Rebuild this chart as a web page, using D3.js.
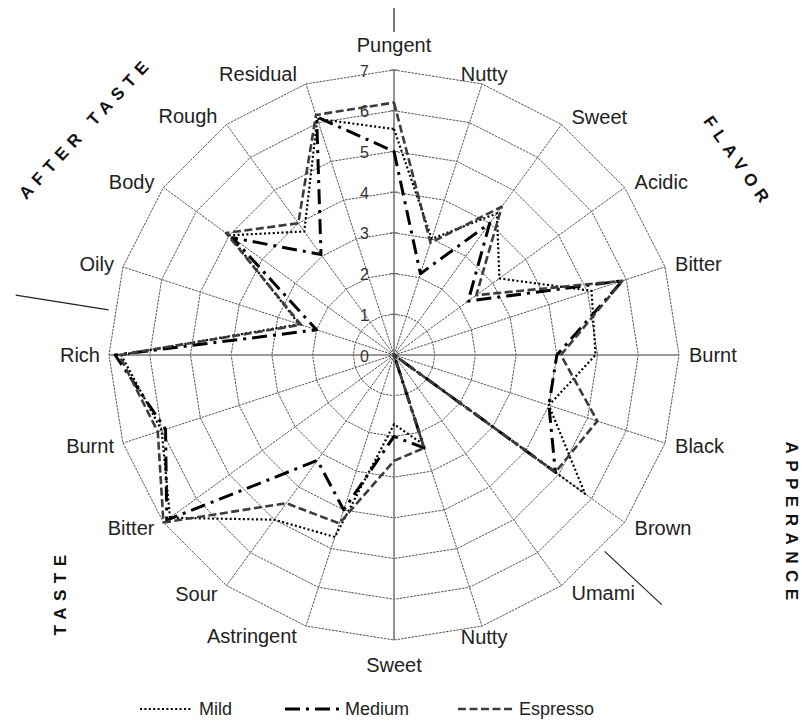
<!DOCTYPE html>
<html><head><meta charset="utf-8">
<script src="https://cdn.jsdelivr.net/npm/d3@7"></script>
<style>body{margin:0;background:#fff;} svg{display:block;font-family:Arial,"Liberation Sans",sans-serif;}</style>
</head><body><svg id="c" width="809" height="723"></svg>
<script>
const axisLabels = ["Pungent","Nutty","Sweet","Acidic","Bitter","Burnt","Black","Brown","Umami","Nutty","Sweet","Astringent","Sour","Bitter","Burnt","Rich","Oily","Body","Rough","Residual"];
const tickValues = [0,1,2,3,4,5,6,7];
const mild     = [5.55, 3.0, 4.3, 3.2, 5.1, 4.95, 4.0, 5.8, 0, 2.3, 1.7, 4.7, 5.0, 6.8, 6.0, 6.7, 2.45, 5.0, 3.75, 6.1];
const medium   = [5.0, 2.1, 4.0, 2.25, 5.9, 4.0, 4.0, 4.9, 0, 2.4, 2.0, 4.0, 3.2, 6.9, 5.9, 6.85, 2.0, 4.9, 3.05, 6.15];
const espresso = [6.2, 2.9, 4.5, 2.5, 5.9, 4.1, 5.25, 4.9, 0, 2.4, 2.6, 4.35, 4.5, 7.0, 6.1, 6.75, 2.4, 5.1, 4.0, 6.2];
const seriesNames = ["Mild","Medium","Espresso"];
const groupNames = ["AFTER TASTE","FLAVOR","APPERANCE","TASTE"];

const svg = d3.select("#c");
const cx = 394, cy = 355, R = 285;
const n = axisLabels.length;
const r = d3.scaleLinear().domain([0, 7]).range([0, R]);
const ang = d3.scaleLinear().domain([0, n]).range([0, 2 * Math.PI]);
const g = svg.append("g").attr("transform", `translate(${cx},${cy})`);
const pol = (a, rad) => [rad * Math.sin(a), -rad * Math.cos(a)];

// rings
const ringLine = d3.lineRadial().angle((d, i) => ang(i)).curve(d3.curveLinearClosed);
tickValues.slice(1).forEach(t => {
  g.append("path")
    .attr("d", ringLine.radius(() => r(t))(d3.range(n)))
    .attr("fill", "none").attr("stroke", "#555").attr("stroke-width", 1)
    .attr("stroke-dasharray", "2.5,1");
});
// spokes
d3.range(n).forEach(i => {
  const [x, y] = pol(ang(i), r(7));
  const card = i % 5 === 0;
  g.append("line").attr("x1", 0).attr("y1", 0).attr("x2", x).attr("y2", y)
    .attr("stroke", card ? "#777" : "#555").attr("stroke-width", card ? 1.6 : 1)
    .attr("stroke-dasharray", card ? null : "2.5,1");
});
// value axis ticks + labels
tickValues.forEach(t => {
  g.append("line").attr("x1", -4).attr("x2", 4).attr("y1", -r(t)).attr("y2", -r(t))
    .attr("stroke", "#666").attr("stroke-width", 1);
  g.append("text").attr("x", -25).attr("y", -r(t) + 1).attr("text-anchor", "end")
    .attr("dominant-baseline", "central").attr("font-size", 16).attr("fill", "#333").text(t);
});
// axis labels
axisLabels.forEach((lab, i) => {
  const a = ang(i), s = Math.sin(a), c = Math.cos(a);
  const [ex, ey] = pol(a, r(7));
  let anchor, x, y;
  if (Math.abs(s) < 0.01) { anchor = "middle"; x = ex; y = ey - c * 25; }
  else if (s > 0 && s < 0.35) { anchor = "middle"; x = ex + 2; y = ey - c * 11; }
  else if (s > 0) { anchor = "start"; x = ex + 10; y = ey - c * 9; }
  else { anchor = "end"; x = ex - 9; y = ey - c * 10; }
  g.append("text").attr("x", x).attr("y", y).attr("text-anchor", anchor)
    .attr("dominant-baseline", "central").attr("font-size", 20).attr("fill", "#222").text(lab);
});
// group separators
[[0, 323, 347], [-81, 289, 383], [133, 288, 366]].forEach(([deg, r1, r2]) => {
  const a = deg * Math.PI / 180;
  const [x1, y1] = pol(a, r1), [x2, y2] = pol(a, r2);
  g.append("line").attr("x1", x1).attr("y1", y1).attr("x2", x2).attr("y2", y2)
    .attr("stroke", "#222").attr("stroke-width", 1.2);
});
// group titles
const groupPos = [[86, 128, -47], [738, 162, 55], [791, 524, 90], [60, 592, -90]];
groupNames.forEach((name, k) => {
  const [x, y, rot] = groupPos[k];
  svg.append("text").attr("transform", `translate(${x},${y}) rotate(${rot})`)
    .attr("text-anchor", "middle").attr("dominant-baseline", "central")
    .attr("font-size", 17).attr("font-weight", "bold").attr("letter-spacing", 6.5)
    .attr("fill", "#111").text(name);
});
// series
const styles = [
  { color: "#000", width: 2.2, dash: "2,2.4" },
  { color: "#000", width: 3, dash: "15,6,3,6" },
  { color: "#3c3c3c", width: 2.6, dash: "8,3.5" }
];
const seriesData = [mild, medium, espresso];
const radial = d3.lineRadial().angle((d, i) => ang(i)).radius(d => r(d)).curve(d3.curveLinearClosed);
seriesData.forEach((vals, k) => {
  g.append("path").attr("d", radial(vals)).attr("fill", "none")
    .attr("stroke", styles[k].color).attr("stroke-width", styles[k].width)
    .attr("stroke-dasharray", styles[k].dash).attr("stroke-linejoin", "round");
});
// legend
const legendX = [[140, 192, 199], [285, 341, 345], [458, 515, 519]];
const ly = 709;
seriesNames.forEach((name, k) => {
  const [x1, x2, tx] = legendX[k];
  svg.append("line").attr("x1", x1).attr("x2", x2).attr("y1", ly).attr("y2", ly)
    .attr("stroke", styles[k].color).attr("stroke-width", styles[k].width)
    .attr("stroke-dasharray", styles[k].dash);
  svg.append("text").attr("x", tx).attr("y", ly).attr("dominant-baseline", "central")
    .attr("font-size", 18).attr("fill", "#222").text(name);
});
</script></body></html>
